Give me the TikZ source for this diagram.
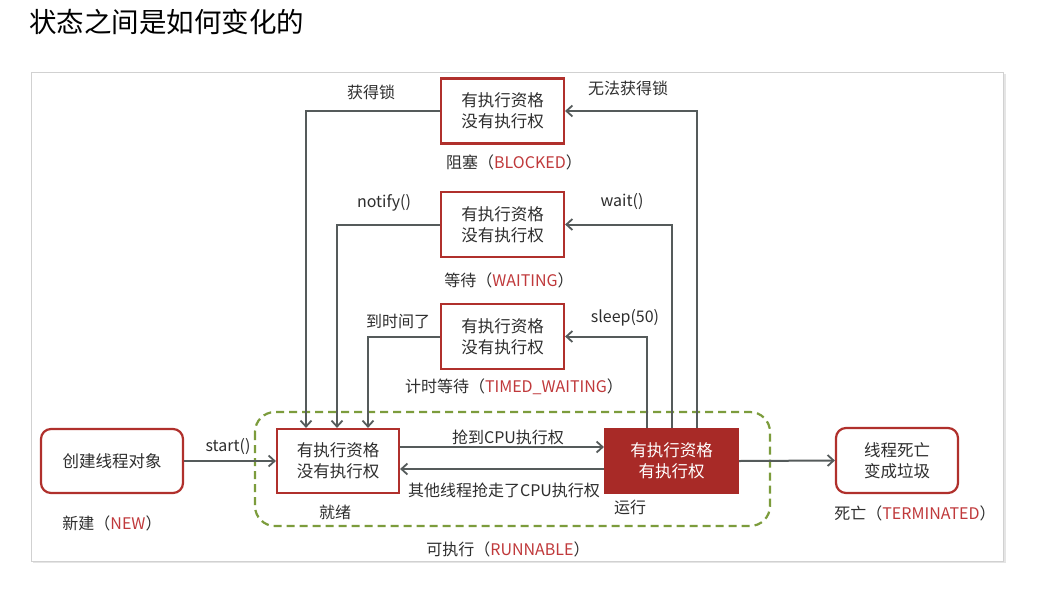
\documentclass[tikz,border=0pt]{standalone}
\usepackage{fontspec}
\setmainfont{Noto Sans CJK SC}
\usetikzlibrary{arrows.meta}
\definecolor{boxred}{HTML}{B0302C}
\definecolor{runred}{HTML}{A82A27}
\definecolor{lblred}{HTML}{C0393B}
\definecolor{lineg}{HTML}{555B5B}
\definecolor{dashg}{HTML}{7C9C3C}
\definecolor{txt}{HTML}{2E2E2E}
\begin{document}
\begin{tikzpicture}[x=1pt,y=-1pt,
  every node/.style={text=txt},
  box/.style={draw=boxred, line width=2.2pt, fill=white, minimum width=123pt, minimum height=65pt,
    align=center, inner sep=0pt, font=\fontsize{16.5}{21}\selectfont},
  rbox/.style={box, rounded corners=10pt},
  lbl/.style={font=\fontsize{16}{19}\selectfont, inner sep=0pt},
  conn/.style={draw=lineg, line width=2pt, -{Straight Barb[length=6pt,width=11pt,line width=1.8pt]}},
  plain/.style={draw=lineg, line width=2pt}
]
\useasboundingbox (0,0) rectangle (1045,598);
\fill[white] (0,0) rectangle (1045,598);
% title
\node[font=\fontsize{27.5}{30}\selectfont, anchor=west, inner sep=0pt, text=black] (title) at (29,22) {状态之间是如何变化的};
% panel
\fill[black!10] (33,74) rectangle (1006,563);
\filldraw[fill=white, draw=black!18, line width=0.8pt] (31,72) rectangle (1003,561);
% runnable group
\draw[dashg, line width=2.2pt, dash pattern=on 8pt off 5pt, rounded corners=20pt] (255,412) rectangle (770,526);
\node[lbl] (lrunnable) at (508,549) {可执行（\textcolor{lblred}{RUNNABLE}）};
% state boxes
\node[box] (blocked) at (502.5,111) {有执行资格\\没有执行权};
\node[lbl] (lblocked) at (514,162) {阻塞（\textcolor{lblred}{BLOCKED}）};
\node[box] (waiting) at (502.5,224.5) {有执行资格\\没有执行权};
\node[lbl] (lwaiting) at (509,280) {等待（\textcolor{lblred}{WAITING}）};
\node[box] (timed) at (502.5,336.5) {有执行资格\\没有执行权};
\node[lbl] (ltimed) at (514,387) {计时等待（\textcolor{lblred}{TIMED\_WAITING}）};
\node[rbox, minimum width=142pt, minimum height=64pt] (new) at (112,461) {创建线程对象};
\node[lbl] (lnew) at (112,523) {新建（\textcolor{lblred}{NEW}）};
\node[box, minimum width=122pt, minimum height=64pt] (ready) at (338,461) {有执行资格\\没有执行权};
\node[lbl] (lready) at (335,512) {就绪};
\node[box, fill=runred, draw=runred, text=white, minimum width=133pt, minimum height=64pt] (run) at (671.5,461) {有执行资格\\有执行权};
\node[lbl] (lrun) at (630,507) {运行};
\node[rbox, minimum width=122pt, minimum height=65pt] (dead) at (897,460.5) {线程死亡\\变成垃圾};
\node[lbl] (ldead) at (915,513) {死亡（\textcolor{lblred}{TERMINATED}）};
% helper coordinates
\coordinate (rb) at (697,461);
\coordinate (rw) at (672,461);
\coordinate (rt) at (647,461);
\coordinate (qb) at (306,461);
\coordinate (qw) at (337,461);
\coordinate (qt) at (368,461);
% connectors
\draw[conn] (new.east) -- (ready.west);
\node[lbl] (lstart) at (228,447) {start()};
\draw[conn] (ready.east |- 0,447) -- (run.west |- 0,447);
\node[lbl] (lgrab) at (508,437) {抢到CPU执行权};
\draw[conn] (run.west |- 0,469) -- (ready.east |- 0,469);
\node[lbl] (llose) at (504,490) {其他线程抢走了CPU执行权};
\draw[conn] (run.east) -- (dead.west);
% to blocked / waiting / timed
\draw[conn] (rb |- run.north) |- (blocked.east);
\node[lbl] (lnolock) at (628,88) {无法获得锁};
\draw[conn] (rw |- run.north) |- (waiting.east);
\node[lbl] (lwait) at (622,202) {wait()};
\draw[conn] (rt |- run.north) |- (timed.east);
\node[lbl] (lsleep) at (625,318) {sleep(50)};
% back to ready
\draw[conn] (blocked.west) -| (qb |- ready.north);
\node[lbl] (lgetlock) at (371,92) {获得锁};
\draw[conn] (waiting.west) -| (qw |- ready.north);
\node[lbl] (lnotify) at (384,203) {notify()};
\draw[conn] (timed.west) -| (qt |- ready.north);
\node[lbl] (ltime) at (398,321) {到时间了};
\end{tikzpicture}
\end{document}
